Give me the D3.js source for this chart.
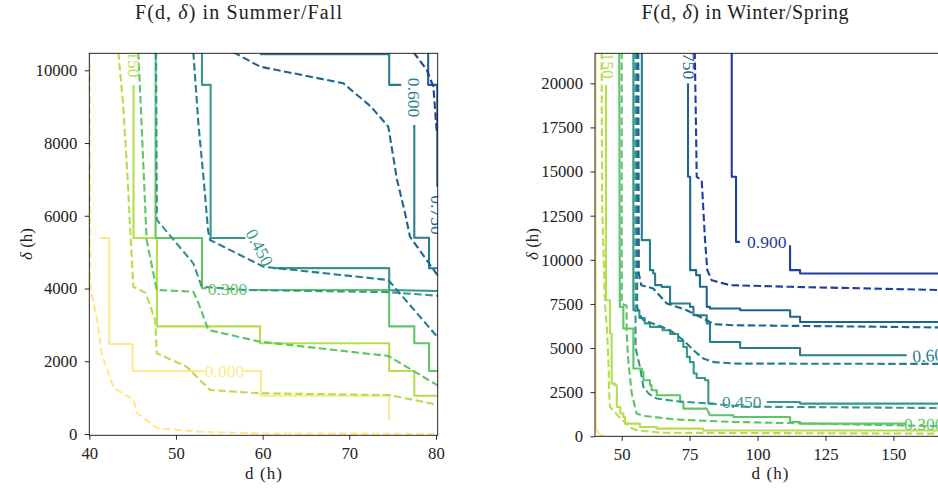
<!DOCTYPE html>
<html>
<head>
<meta charset="utf-8">
<script src="https://cdn.jsdelivr.net/npm/d3@7"></script>
<style>
  body { margin: 0; background: #fff; }
  text { font-family: "Liberation Serif", "DejaVu Serif", serif; fill: #222; }
</style>
</head>
<body>
<svg id="fig" width="938" height="492"></svg>
<script>
// contour levels and their colours
const levels = [0.0, 0.15, 0.3, 0.45, 0.6, 0.75, 0.9];
const levelColors = ["#fde98c", "#b4de4b", "#5ec468", "#37988a", "#287d8e", "#1e6491", "#233ca0"];

const summerTicksX = [40, 50, 60, 70, 80];
const summerTicksY = [0, 2000, 4000, 6000, 8000, 10000];
const winterTicksX = [50, 75, 100, 125, 150, 175];
const winterTicksY = [0, 2500, 5000, 7500, 10000, 12500, 15000, 17500, 20000];

// [level index, [segments of [d, delta]]]
const summerSolid = [
  [0, [[[41.2,5390],[42.3,5390],[42.3,2475],[45.0,2475],[45.0,1732],[53.3,1732]],
       [[57.9,1732],[59.8,1732],[59.8,1053],[74.6,1053],[74.6,385]]]],
  [1, [[[45.1,9596],[45.1,5390],[47.8,5390],[47.8,2960],[59.7,2960],[59.7,2494],[74.6,2494],[74.6,1732],[77.5,1732],[77.5,1053],[80.3,1053]]]],
  [2, [[[47.65,10500],[47.65,5390],[53.0,5390],[53.0,4006],[53.5,4006]],
       [[58.4,3960],[74.6,3960],[74.6,2960],[77.5,2960],[77.5,2494],[79.2,2494],[79.2,1732],[80.3,1732]]]],
  [3, [[[53.0,10500],[53.0,9600],[54.0,9600],[54.0,5390],[58.0,5390]],
       [[61.2,4560],[74.6,4560],[74.6,3960],[80.3,3930]]]],
  [4, [[[59.7,10440],[74.6,10440],[74.6,9600],[76.0,9600]],
       [[77.5,8496],[77.5,5397],[79.2,5397],[79.2,4556],[80.3,4556]]]],
  [5, [[[79.1,10500],[79.1,9600],[80.15,9600],[80.15,6800]]]]
];
const summerDashed = [
  [0, [[[40.05,10500],[40.1,4050],[40.9,3134],[41.4,2227],[42.8,1265],[44.7,1000],[45.1,935],[45.5,577],[47.8,165],[52.8,60],[60,15],[80.3,5]]]],
  [1, [[[43.35,10500],[43.92,9000],[44.39,7167],[44.7,5700],[45.08,4050],[46.5,3880],[47.6,3134],[47.78,2218],[51.24,1851],[53.93,1210],[59.7,1119],[74.6,1070],[80.3,800]]]],
  [2, [[[45.66,10500],[46.62,5334],[47.78,3959],[52.0,3913],[52.6,3600],[53.73,2860],[59.7,2538],[74.5,2145],[80.3,1320]]]],
  [3, [[[47.7,10500],[47.8,5884],[52.0,4693],[52.97,4050],[58,3960],[74.6,3900],[80.3,3800]]]],
  [4, [[[52.0,10500],[52.6,8500],[53.2,7000],[53.7,5600],[53.93,5334],[60.08,4600],[74.5,4234],[80.3,2631]]]],
  [5, [[[56.6,10500],[59.7,10100],[69.3,9643],[72.5,9000],[74.5,8450],[75.5,7000],[76.5,6000],[77.0,5425],[80.3,4325]]]],
  [6, [[[77.4,10500],[78.95,10008],[79.7,9550],[80.1,8266]]]]
];
// [level index, d, delta, angle]
const summerLabels = [
  [0, 55.6, 1732, 0], [1, 45.15, 10341, 90], [2, 55.95, 3985, 0],
  [3, 59.63, 5128, 62], [4, 77.47, 9252, 90], [5, 80.12, 6021, 90]
];

const winterSolid = [
  [0, [[[40.45,21800],[40.45,400],[42,80]]]],
  [1, [[[44.2,19900],[44.2,7712],[45.7,7712],[45.7,5823],[46.3,5823],[46.3,2986],[47.5,2986],[47.5,2892],[48.2,2892],[48.2,1663],[49.5,1663],[49.5,1300],[50.6,1300],[50.6,1096],[51.2,1096],[51.2,718],[56.7,718],[56.7,529],[62.9,529],[62.9,435],[80,435],[80,330],[170,330]]]],
  [2, [[[49.1,21800],[49.3,7334],[50.6,7334],[50.6,6106],[54.3,6106],[54.3,3839],[57.4,3839],[57.4,3648],[58.0,3648],[58.0,3175],[60.4,3175],[60.4,2900],[61.0,2900],[61.0,2608],[62.9,2608],[62.9,2325],[71.5,2325],[71.5,1947],[72.7,1947],[72.7,1569],[81.3,1569],[82.5,1191],[91.1,1191],[91.1,1096],[112,1096],[112,813],[115.65,813],[115.65,718],[155,718]]]],
  [3, [[[54.3,21800],[54.3,7145],[56.5,7145],[56.5,6700],[58.5,6700],[58.5,6400],[60.4,6400],[60.4,6198],[65,6198],[65,6010],[67.8,6010],[67.8,5800],[70.8,5800],[70.8,5400],[72.7,5400],[72.7,5063],[74,5063],[74,4500],[75.1,4500],[75.1,4200],[76.5,4200],[76.5,3556],[77.6,3556],[77.6,3300],[80.7,3300],[80.7,3175],[81.9,3175],[81.9,1853],[84,1853]],
       [[103.4,1947],[115.65,1947],[115.65,1853],[170,1853]]]],
  [4, [[[57.4,21800],[57.4,11114],[60.4,11114],[60.4,9413],[61.6,9413],[61.6,9224],[62.3,9224],[62.3,8563],[64.7,8563],[64.7,8468],[67.8,8468],[67.8,7523],[75.15,7523],[75.15,7334],[76.4,7334],[76.4,6862],[81.3,6862],[81.3,6389],[82.5,6389],[82.5,5347],[93.6,5347],[93.6,5000],[115.65,5000],[115.65,4593],[154.9,4593]]]],
  [5, [[[74.4,20000],[74.4,14704],[75.2,14704],[75.2,9413],[77.4,9413],[77.4,9130],[78.8,9130],[78.8,8470],[81.3,8470],[81.3,7334],[82.5,7334],[82.5,7240],[93.6,7240],[93.6,7145],[112,7145],[112,6770],[115.65,6770],[115.65,6480],[170,6480]]]],
  [6, [[[90.5,21800],[90.5,14704],[92.08,14704],[92.08,11018],[93.5,11018]],
       [[111.97,10830],[111.97,9413],[115.65,9413],[115.65,9224],[170,9224]]]]
];
const winterDashed = [
  [0, [[[40.3,21800],[40.3,500],[41.5,100],[44,20]]]],
  [1, [[[42.6,21800],[42.8,13004],[43.85,7523],[44.6,6000],[45.1,4310],[45.4,2500],[45.7,1663],[46.9,1474],[49,1100],[51.8,718],[53,500],[55.5,340],[65,200],[170,150]]]],
  [2, [[[50.0,21800],[50.0,7523],[51.8,7400],[51.8,6011],[52.4,4310],[53.7,2419],[55.5,1285],[58,1150],[61.6,1096],[70,950],[91.1,813],[170,560]]]],
  [3, [[[55.0,21800],[55.1,5000],[56.7,3930],[58,2796],[60,2400],[62.9,2138],[70,1990],[82.5,1853],[95,1680],[170,1600]]]],
  [4, [[[55.6,21800],[55.7,7300],[56.7,6861],[58,6578],[63,6300],[67.8,6010],[72.7,5444],[76.4,4877],[80.0,4404],[84,4200],[92.3,4120],[170,4100]]]],
  [5, [[[56.1,21800],[56.3,9224],[57.2,8563],[61.6,8373],[66.6,7523],[73.9,7145],[81.3,6578],[84,6350],[91.1,6294],[170,6163]]]],
  [6, [[[76.9,21800],[77.4,17000],[77.6,14704],[79.45,14516],[80.67,11114],[81.5,9413],[83.1,8846],[89.9,8563],[112,8470],[170,8279]]]]
];
const winterLabels = [
  [1, 45.1, 21377, 90], [5, 74.8, 21350, 90], [6, 103.4, 11018, 0],
  [3, 94.2, 1947, 0], [2, 161.2, 718, 0], [4, 164.25, 4593, -4]
];

const svg = d3.select("#fig");
const serif = '"Liberation Serif", "DejaVu Serif", serif';
const line = (x, y) => d3.line().x(p => x(p[0])).y(p => y(p[1]));

function drawPanel(cfg) {
  const g = svg.append("g");
  const x = d3.scaleLinear().domain(cfg.xDomain).range([cfg.left, cfg.right]);
  const y = d3.scaleLinear().domain(cfg.yDomain).range([cfg.bottom, cfg.top]);

  svg.append("clipPath").attr("id", cfg.id + "-clip")
    .append("rect")
    .attr("x", cfg.left).attr("y", cfg.top)
    .attr("width", cfg.right - cfg.left).attr("height", cfg.bottom - cfg.top);

  const plot = g.append("g").attr("clip-path", `url(#${cfg.id}-clip)`);
  const path = line(x, y);

  cfg.solid.forEach(([li, segs]) => segs.forEach(s => {
    plot.append("path").attr("d", path(s))
      .attr("fill", "none").attr("stroke", levelColors[li])
      .attr("stroke-width", 2.1).attr("stroke-linejoin", "round");
  }));
  cfg.dashed.forEach(([li, segs]) => segs.forEach(s => {
    plot.append("path").attr("d", path(s))
      .attr("fill", "none").attr("stroke", levelColors[li])
      .attr("stroke-width", 2.1).attr("stroke-dasharray", "7.5,3.5")
      .attr("stroke-linejoin", "round");
  }));

  cfg.labels.forEach(([li, d, delta, ang]) => {
    plot.append("text")
      .attr("transform", `translate(${x(d)},${y(delta)}) rotate(${ang})`)
      .attr("text-anchor", "middle").attr("dominant-baseline", "central")
      .style("font-family", serif)
      .style("font-size", "17.5px").style("fill", levelColors[li])
      .text(levels[li].toFixed(3));
  });

  // spines
  g.append("rect")
    .attr("x", cfg.left).attr("y", cfg.top)
    .attr("width", cfg.right - cfg.left).attr("height", cfg.bottom - cfg.top)
    .attr("fill", "none").attr("stroke", "#111").attr("stroke-width", 0.9);

  const xAxis = g.append("g").attr("transform", `translate(0,${cfg.bottom})`)
    .call(d3.axisBottom(x).tickValues(cfg.xTicks).tickSize(4.5).tickPadding(7.5).tickFormat(d3.format("d")));
  const yAxis = g.append("g").attr("transform", `translate(${cfg.left},0)`)
    .call(d3.axisLeft(y).tickValues(cfg.yTicks).tickSize(4.5).tickPadding(7.5).tickFormat(d3.format("d")));
  [xAxis, yAxis].forEach(a => {
    a.select(".domain").remove();
    a.attr("font-family", null).attr("font-size", null);
    a.selectAll("line").attr("stroke", "#111").attr("stroke-width", 0.9);
    a.selectAll("text").style("font-family", serif).style("font-size", "16.7px").style("fill", "#222");
  });

  // title and axis labels
  const title = svg.append("text")
    .attr("x", cfg.titleX).attr("y", 18.5).attr("text-anchor", "middle")
    .attr("textLength", 207).attr("lengthAdjust", "spacing")
    .style("font-size", "20px");
  title.append("tspan").text("F(d, ");
  title.append("tspan").style("font-style", "italic").text("δ");
  title.append("tspan").text(") in " + cfg.season);

  svg.append("text")
    .attr("x", (cfg.left + cfg.right) / 2).attr("y", 479)
    .attr("text-anchor", "middle").attr("textLength", 37).attr("lengthAdjust", "spacing")
    .style("font-size", "17px").text("d (h)");

  const yl = svg.append("text")
    .attr("transform", `translate(${cfg.left - 63},244) rotate(-90)`)
    .attr("text-anchor", "middle").attr("dominant-baseline", "central")
    .style("font-size", "17px");
  yl.append("tspan").style("font-style", "italic").text("δ");
  yl.append("tspan").text(" (h)");
}

drawPanel({
  id: "summer", season: "Summer/Fall", titleX: 238.5,
  left: 89.3, right: 437.7, top: 53.3, bottom: 435.3,
  xDomain: [40, 80.2], yDomain: [-36, 10467],
  xTicks: summerTicksX, yTicks: summerTicksY,
  solid: summerSolid, dashed: summerDashed, labels: summerLabels
});

drawPanel({
  id: "winter", season: "Winter/Spring", titleX: 745,
  left: 595, right: 945, top: 53.3, bottom: 436.3,
  xDomain: [40.17, 169.0], yDomain: [0, 21700],
  xTicks: winterTicksX.filter(t => t <= 169), yTicks: winterTicksY,
  solid: winterSolid, dashed: winterDashed, labels: winterLabels
});
</script>
</body>
</html>
